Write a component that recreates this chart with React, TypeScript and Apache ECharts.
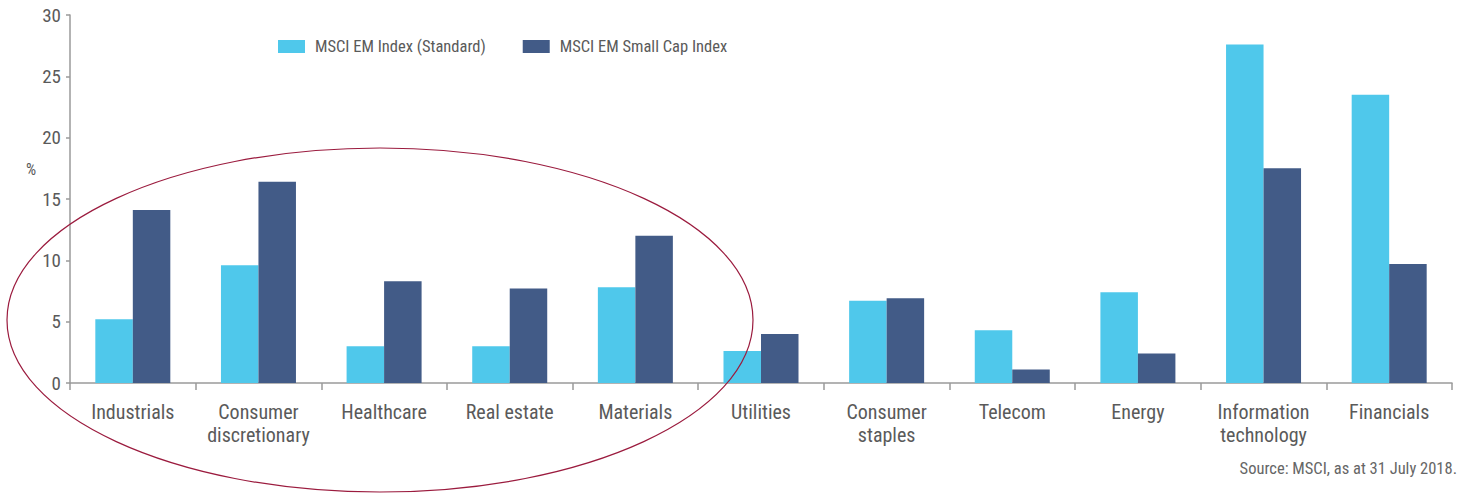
import React, { useEffect, useRef } from "react";
import * as echarts from "echarts";

const categories = [
  "Industrials",
  "Consumer\ndiscretionary",
  "Healthcare",
  "Real estate",
  "Materials",
  "Utilities",
  "Consumer\nstaples",
  "Telecom",
  "Energy",
  "Information\ntechnology",
  "Financials",
];
const standardValues = [5.2, 9.6, 3.0, 3.0, 7.8, 2.6, 6.7, 4.3, 7.4, 27.6, 23.5];
const smallCapValues = [14.1, 16.4, 8.3, 7.7, 12.0, 4.0, 6.9, 1.1, 2.4, 17.5, 9.7];
const seriesNames = ["MSCI EM Index (Standard)", "MSCI EM Small Cap Index"];
const yTicks = { min: 0, max: 30, interval: 5 };
const sourceText = "Source: MSCI, as at 31 July 2018.";

const FONT = "'Liberation Sans Narrow', 'Arial Narrow', 'Roboto Condensed', 'Liberation Sans', sans-serif";
const TEXT_COLOR = "#5a5a5a";
const AXIS_COLOR = "#9a9a9a";
const LIGHT = "#4FC8EB";
const DARK = "#425B87";

export default function App() {
  const ref = useRef<HTMLDivElement>(null);
  useEffect(() => {
    if (!ref.current) return;
    const chart = echarts.init(ref.current, undefined, { renderer: "svg" });
    chart.setOption({
      animation: false,
      backgroundColor: "#ffffff",
      textStyle: { fontFamily: FONT },
      grid: { left: 70, right: 14, top: 15, bottom: 110, containLabel: false },
      legend: {
        top: 33,
        left: 273,
        itemWidth: 27,
        itemHeight: 13,
        itemGap: 37,
        icon: "rect",
        textStyle: { fontFamily: FONT, fontSize: 16.5, color: TEXT_COLOR, padding: [0, 0, 0, 5] },
        data: seriesNames,
      },
      xAxis: {
        type: "category",
        data: categories,
        axisLine: { lineStyle: { color: AXIS_COLOR, width: 1.5 } },
        axisTick: { show: true, length: 7, lineStyle: { color: AXIS_COLOR, width: 1.5 }, alignWithLabel: false },
        axisLabel: {
          fontFamily: FONT,
          fontSize: 20,
          color: TEXT_COLOR,
          margin: 17,
          lineHeight: 23,
          interval: 0,
        },
      },
      yAxis: {
        type: "value",
        min: yTicks.min,
        max: yTicks.max,
        interval: yTicks.interval,
        splitLine: { show: false },
        axisLine: { show: true, lineStyle: { color: AXIS_COLOR, width: 1.5 } },
        axisTick: { show: true, length: 4, lineStyle: { color: AXIS_COLOR, width: 1.5 } },
        axisLabel: { fontFamily: FONT, fontSize: 19, color: TEXT_COLOR, margin: 9 },
      },
      series: [
        {
          name: seriesNames[0],
          type: "bar",
          data: standardValues,
          barWidth: 37.5,
          barGap: "0%",
          itemStyle: { color: LIGHT },
        },
        {
          name: seriesNames[1],
          type: "bar",
          data: smallCapValues,
          barWidth: 37.5,
          barGap: "0%",
          itemStyle: { color: DARK },
        },
      ],
      graphic: [
        {
          type: "text",
          left: 26,
          top: 161,
          style: { text: "%", fontFamily: FONT, fontSize: 16, fill: TEXT_COLOR },
        },
        {
          type: "ellipse",
          shape: { cx: 380, cy: 320, rx: 373, ry: 172 },
          style: { fill: "none", stroke: "#9B1B3E", lineWidth: 1.2 },
          silent: true,
          z: 100,
        },
        {
          type: "text",
          right: 9,
          top: 460,
          style: { text: sourceText, fontFamily: FONT, fontSize: 16.5, fill: "#666666" },
        },
      ],
    });
    return () => chart.dispose();
  }, []);
  return <div ref={ref} style={{ width: 1466, height: 493, position: "absolute", left: 0, top: 0 }} />;
}
